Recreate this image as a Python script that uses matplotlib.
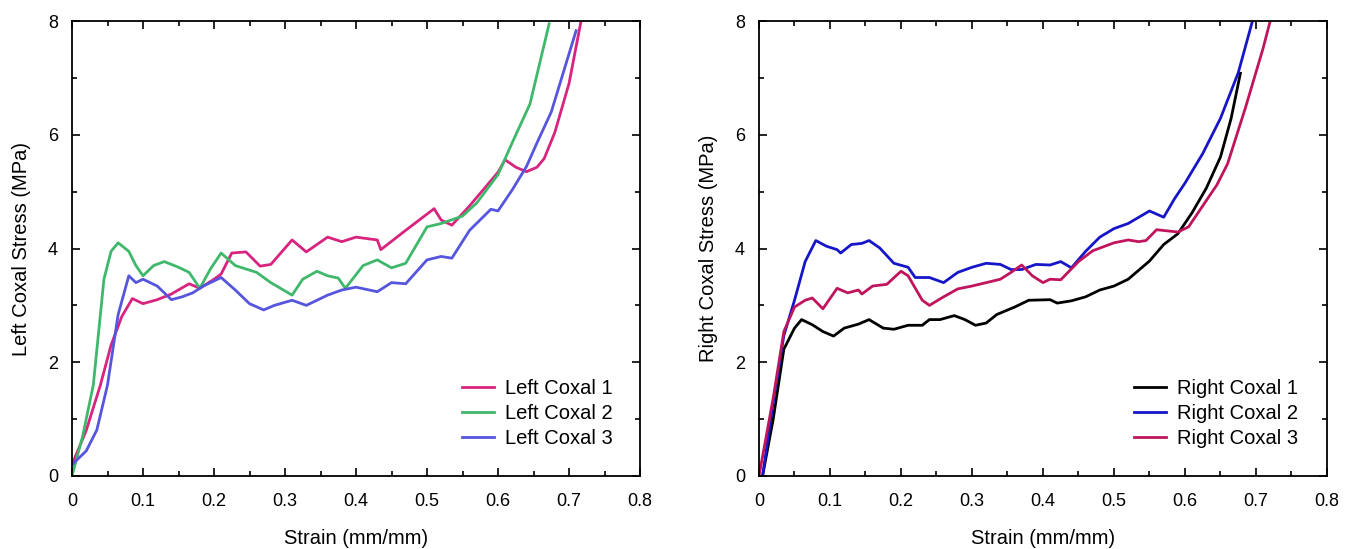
import matplotlib
matplotlib.use("Agg")
import matplotlib.pyplot as plt
from matplotlib.ticker import MultipleLocator

plt.rcParams['font.family'] = ['Liberation Sans', 'DejaVu Sans']

# ---- left coxal data (strain, stress MPa) ----
left1_x = [0, 0.02, 0.04, 0.055, 0.07, 0.085, 0.1, 0.12, 0.14, 0.165, 0.18, 0.2, 0.21, 0.225, 0.245,
           0.265, 0.28, 0.31, 0.33, 0.36, 0.38, 0.40, 0.43, 0.435, 0.47, 0.51, 0.52, 0.535, 0.56,
           0.6, 0.61, 0.625, 0.64, 0.655, 0.665, 0.68, 0.70, 0.717]
left1_y = [0.2, 0.8, 1.6, 2.3, 2.8, 3.12, 3.03, 3.1, 3.2, 3.38, 3.3, 3.46, 3.55, 3.92, 3.94,
           3.69, 3.72, 4.15, 3.94, 4.2, 4.12, 4.2, 4.15, 3.98, 4.32, 4.7, 4.5, 4.41, 4.75,
           5.34, 5.56, 5.43, 5.35, 5.43, 5.58, 6.04, 6.9, 8.0]

left2_x = [0, 0.015, 0.03, 0.045, 0.055, 0.065, 0.08, 0.09, 0.1, 0.115, 0.13, 0.15, 0.165, 0.18,
           0.195, 0.21, 0.23, 0.26, 0.28, 0.31, 0.325, 0.345, 0.36, 0.375, 0.385, 0.41, 0.43,
           0.45, 0.47, 0.5, 0.52, 0.55, 0.57, 0.6, 0.62, 0.645, 0.672]
left2_y = [0.0, 0.7, 1.6, 3.46, 3.95, 4.1, 3.95, 3.7, 3.52, 3.7, 3.77, 3.67, 3.58, 3.3,
           3.64, 3.92, 3.7, 3.58, 3.4, 3.18, 3.46, 3.6, 3.52, 3.48, 3.3, 3.7, 3.8,
           3.66, 3.74, 4.38, 4.44, 4.57, 4.8, 5.3, 5.86, 6.54, 7.95]

left3_x = [0, 0.02, 0.035, 0.05, 0.065, 0.08, 0.09, 0.1, 0.12, 0.14, 0.155, 0.17, 0.185, 0.21,
           0.23, 0.25, 0.27, 0.285, 0.31, 0.33, 0.36, 0.38, 0.4, 0.43, 0.45, 0.47, 0.5, 0.52,
           0.535, 0.56, 0.59, 0.6, 0.62, 0.64, 0.655, 0.675, 0.71]
left3_y = [0.2, 0.44, 0.81, 1.6, 2.84, 3.52, 3.4, 3.46, 3.34, 3.1, 3.15, 3.22, 3.34, 3.49,
           3.27, 3.03, 2.92, 3.0, 3.09, 3.0, 3.18, 3.27, 3.32, 3.24, 3.4, 3.38, 3.8, 3.86,
           3.83, 4.32, 4.69, 4.66, 5.03, 5.44, 5.86, 6.4, 7.83]

# ---- right coxal data ----
right1_x = [0.005, 0.02, 0.035, 0.05, 0.06, 0.075, 0.09, 0.105, 0.12, 0.14, 0.155, 0.175, 0.19,
            0.21, 0.23, 0.24, 0.255, 0.275, 0.29, 0.305, 0.32, 0.335, 0.36, 0.38, 0.41, 0.42,
            0.44, 0.46, 0.48, 0.5, 0.52, 0.55, 0.57, 0.59, 0.61, 0.63, 0.65, 0.665, 0.678]
right1_y = [0.0, 1.0, 2.23, 2.6, 2.75, 2.66, 2.54, 2.46, 2.6, 2.67, 2.75, 2.6, 2.58,
            2.65, 2.65, 2.75, 2.75, 2.82, 2.75, 2.65, 2.69, 2.84, 2.97, 3.09, 3.1, 3.04,
            3.08, 3.15, 3.27, 3.34, 3.46, 3.78, 4.07, 4.26, 4.63, 5.06, 5.61, 6.29, 7.08]

right2_x = [0.005, 0.02, 0.035, 0.05, 0.065, 0.08, 0.095, 0.11, 0.115, 0.13, 0.145, 0.155, 0.17,
            0.19, 0.21, 0.22, 0.24, 0.26, 0.28, 0.3, 0.32, 0.34, 0.355, 0.37, 0.39, 0.41, 0.425,
            0.44, 0.46, 0.48, 0.5, 0.52, 0.55, 0.57, 0.585, 0.6, 0.625, 0.65, 0.675, 0.695]
right2_y = [0.0, 1.3, 2.47, 3.09, 3.77, 4.14, 4.04, 3.98, 3.92, 4.07, 4.09, 4.14, 4.01,
            3.74, 3.67, 3.49, 3.49, 3.4, 3.58, 3.67, 3.74, 3.72, 3.63, 3.63, 3.72, 3.71, 3.77,
            3.66, 3.95, 4.2, 4.35, 4.44, 4.66, 4.55, 4.87, 5.15, 5.67, 6.29, 7.09, 8.0]

right3_x = [0.0, 0.02, 0.035, 0.05, 0.065, 0.075, 0.09, 0.11, 0.125, 0.14, 0.145, 0.16, 0.18,
            0.2, 0.21, 0.23, 0.24, 0.26, 0.28, 0.3, 0.32, 0.34, 0.355, 0.37, 0.385, 0.4, 0.41,
            0.425, 0.45, 0.47, 0.5, 0.52, 0.535, 0.545, 0.56, 0.575, 0.59, 0.605, 0.625, 0.645,
            0.66, 0.685, 0.71, 0.72]
right3_y = [0.0, 1.37, 2.54, 2.97, 3.09, 3.13, 2.94, 3.3, 3.22, 3.27, 3.2, 3.34, 3.37,
            3.6, 3.52, 3.09, 3.0, 3.15, 3.29, 3.34, 3.4, 3.46, 3.58, 3.71, 3.52, 3.4, 3.46,
            3.45, 3.77, 3.96, 4.1, 4.15, 4.12, 4.14, 4.33, 4.31, 4.29, 4.38, 4.75, 5.12,
            5.49, 6.47, 7.52, 8.0]

left_labels = ['Left Coxal 1', 'Left Coxal 2', 'Left Coxal 3']
left_colors = ['#d8237f', '#3fb86b', '#5555dd']
right_labels = ['Right Coxal 1', 'Right Coxal 2', 'Right Coxal 3']
right_colors = ['#000000', '#1616c8', '#c0155c']

fig = plt.figure(figsize=(13.52, 5.49), dpi=100)
ax1 = fig.add_axes([72 / 1352, 1 - 476 / 549, 568 / 1352, 455 / 549])
ax2 = fig.add_axes([759 / 1352, 1 - 476 / 549, 568 / 1352, 455 / 549])

panels = [
    (ax1, [(left1_x, left1_y), (left2_x, left2_y), (left3_x, left3_y)], left_labels, left_colors,
     'Left Coxal Stress (MPa)', (0.984, 0.022)),
    (ax2, [(right1_x, right1_y), (right2_x, right2_y), (right3_x, right3_y)], right_labels, right_colors,
     'Right Coxal Stress (MPa)', (0.981, 0.022)),
]

for ax, series, labels, colors, ylab, anchor in panels:
    for (xs, ys), lab, c in zip(series, labels, colors):
        ax.plot(xs, ys, color=c, lw=2.0, label=lab)
    ax.set_xlim(0, 0.8)
    ax.set_ylim(0, 8)
    ax.xaxis.set_major_locator(MultipleLocator(0.1))
    ax.xaxis.set_minor_locator(MultipleLocator(0.05))
    ax.yaxis.set_major_locator(MultipleLocator(2))
    ax.yaxis.set_minor_locator(MultipleLocator(1))
    ax.xaxis.set_major_formatter(plt.FuncFormatter(lambda v, p: '0' if v == 0 else f'{v:g}'))
    ax.tick_params(which='both', direction='in', top=True, right=True, labelsize=13, width=1.2)
    ax.tick_params(which='major', length=6)
    ax.tick_params(which='minor', length=3.5)
    ax.tick_params(axis='x', which='major', pad=12)
    ax.tick_params(axis='y', which='major', pad=10)
    for s in ax.spines.values():
        s.set_linewidth(1.3)
    ax.set_xlabel('Strain (mm/mm)', fontsize=14.5, labelpad=14)
    ax.set_ylabel(ylab, fontsize=14.5, labelpad=12)
    ax.legend(loc='lower right', frameon=False, fontsize=14.5, handlelength=1.6,
              handletextpad=0.55, labelspacing=0.3, bbox_to_anchor=anchor)

fig.savefig('out.png', dpi=100)
